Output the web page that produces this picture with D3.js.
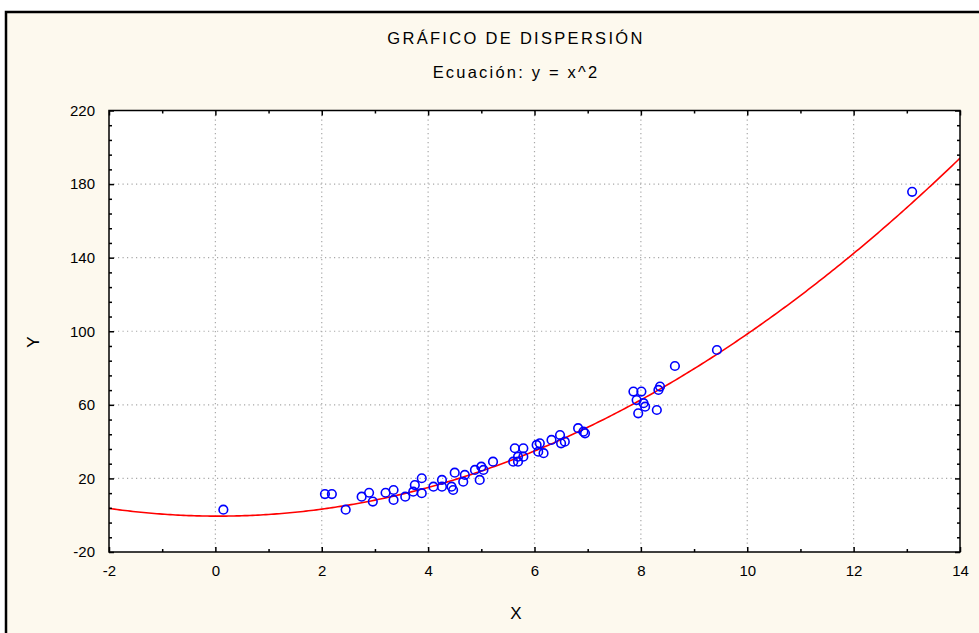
<!DOCTYPE html>
<html>
<head>
<meta charset="utf-8">
<script src="https://cdn.jsdelivr.net/npm/d3@7"></script>
<style>
  html, body { margin: 0; padding: 0; background: #ffffff; }
  svg { display: block; }
  text { font-family: "Liberation Sans", Arial, sans-serif; fill: #000; }
</style>
</head>
<body>
<script>
// ---- Data ----
const titleText = "GRÁFICO DE DISPERSIÓN";
const subtitleText = "Ecuación: y = x^2";
const xLabel = "X";
const yLabel = "Y";

const xValues = [0.15, 2.06, 2.19, 2.45, 2.75, 2.89, 2.96, 3.2, 3.35, 3.35,
  3.57, 3.72, 3.75, 3.88, 3.88, 4.1, 4.26, 4.26, 4.44, 4.47,
  4.5, 4.66, 4.69, 4.88, 4.97, 5.0, 5.04, 5.22, 5.6, 5.63,
  5.69, 5.69, 5.79, 5.79, 6.04, 6.07, 6.1, 6.17, 6.32, 6.48,
  6.5, 6.57, 6.82, 6.92, 6.95, 7.86, 8.01, 7.92, 8.05, 7.95,
  8.08, 8.3, 8.33, 8.36, 8.64, 9.43, 13.1];
const yValues = [3, 11.5, 11.5, 3, 10.1, 12.2, 7.4, 12.2, 13.7, 8.3,
  10.1, 12.8, 16.4, 20.1, 12, 15.5, 19.2, 15.5, 15.5, 13.7,
  23.1, 18.2, 21.9, 24.6, 19.2, 26.4, 24.6, 29.1, 29.1, 36.4,
  31.8, 29.1, 36.4, 31.8, 38.2, 34.5, 39.1, 33.7, 40.9, 43.6,
  39.1, 40, 47.3, 45.4, 44.5, 67.2, 67.2, 62.6, 60.9, 55.4,
  59, 57.2, 68.1, 69.9, 81.1, 89.8, 175.8];

// fitted curve coefficients: y = c0 + c1*x + c2*x^2
const fitCoefficients = [-0.5, -0.1, 1.0];

const xMajorTicks = [-2, 0, 2, 4, 6, 8, 10, 12, 14];
const xMinorTicks = [-1, 1, 3, 5, 7, 9, 11, 13];
const yMajorTicks = [-20, 20, 60, 100, 140, 180, 220];
const yMinorTicks = [-12, -4, 4, 12, 28, 36, 44, 52, 68, 76, 84, 92, 108, 116, 124, 132, 148, 156, 164, 172, 188, 196, 204, 212];
const xDomain = [-2, 14];
const yDomain = [-20, 220];

// ---- Layout ----
const W = 979, H = 633;
const plot = { left: 109, top: 110.5, right: 960, bottom: 552 };

const svg = d3.select("body").append("svg").attr("width", W).attr("height", H);

// outer panel
svg.append("rect").attr("x", 6).attr("y", 12).attr("width", W + 20).attr("height", H + 20)
  .attr("fill", "#fdf9ee").attr("stroke", "#000").attr("stroke-width", 2.5);

const x = d3.scaleLinear().domain(xDomain).range([plot.left, plot.right]);
const y = d3.scaleLinear().domain(yDomain).range([plot.bottom, plot.top]);

// plot background
svg.append("rect").attr("x", plot.left).attr("y", plot.top)
  .attr("width", plot.right - plot.left).attr("height", plot.bottom - plot.top)
  .attr("fill", "#ffffff");

// grid
const grid = svg.append("g").attr("stroke", "#a8a8a8").attr("stroke-width", 1.2)
  .attr("stroke-dasharray", "1.2,3.3");
xMajorTicks.filter(v => v > xDomain[0] && v < xDomain[1]).forEach(v => {
  grid.append("line").attr("x1", x(v)).attr("x2", x(v)).attr("y1", plot.top).attr("y2", plot.bottom);
});
yMajorTicks.filter(v => v > yDomain[0] && v < yDomain[1]).forEach(v => {
  grid.append("line").attr("y1", y(v)).attr("y2", y(v)).attr("x1", plot.left).attr("x2", plot.right);
});

// clip
svg.append("clipPath").attr("id", "clip").append("rect")
  .attr("x", plot.left).attr("y", plot.top)
  .attr("width", plot.right - plot.left).attr("height", plot.bottom - plot.top);

// fitted curve
const curvePts = d3.range(0, 321).map(i => {
  const xv = xDomain[0] + (xDomain[1] - xDomain[0]) * i / 320;
  return [xv, fitCoefficients[0] + fitCoefficients[1] * xv + fitCoefficients[2] * xv * xv];
});
svg.append("path").attr("clip-path", "url(#clip)")
  .attr("d", d3.line().x(d => x(d[0])).y(d => y(d[1]))(curvePts))
  .attr("fill", "none").attr("stroke", "#ff0000").attr("stroke-width", 1.6);

// points
svg.append("g").selectAll("circle").data(xValues.map((v, i) => [v, yValues[i]]))
  .join("circle")
  .attr("cx", d => x(d[0])).attr("cy", d => y(d[1])).attr("r", 4.3)
  .attr("fill", "none").attr("stroke", "#0000ff").attr("stroke-width", 1.6);

// axes (ticks inward)
const tickSizeMaj = 5, tickSizeMin = 3;
function axisGroup(axis, tx, ty) {
  const g = svg.append("g").attr("transform", `translate(${tx},${ty})`).call(axis);
  g.select(".domain").remove();
  g.selectAll("line").attr("stroke", "#000").attr("stroke-width", 1.5);
  return g;
}
const labelFont = "Liberation Sans, Arial, sans-serif";
// bottom
const bMaj = axisGroup(d3.axisBottom(x).tickValues(xMajorTicks).tickSize(-tickSizeMaj).tickPadding(13).tickFormat(d3.format("d")), 0, plot.bottom);
bMaj.selectAll("text").attr("font-size", 15).attr("font-family", labelFont).text(d => String(d));
axisGroup(d3.axisBottom(x).tickValues(xMinorTicks).tickSize(-tickSizeMin).tickFormat(""), 0, plot.bottom);
// top
axisGroup(d3.axisTop(x).tickValues(xMajorTicks).tickSize(-tickSizeMaj).tickFormat(""), 0, plot.top);
axisGroup(d3.axisTop(x).tickValues(xMinorTicks).tickSize(-tickSizeMin).tickFormat(""), 0, plot.top);
// left
const lMaj = axisGroup(d3.axisLeft(y).tickValues(yMajorTicks).tickSize(-tickSizeMaj).tickPadding(14).tickFormat(d3.format("d")), plot.left, 0);
lMaj.selectAll("text").attr("font-size", 15).attr("font-family", labelFont).text(d => String(d));
axisGroup(d3.axisLeft(y).tickValues(yMinorTicks).tickSize(-tickSizeMin).tickFormat(""), plot.left, 0);
// right
axisGroup(d3.axisRight(y).tickValues(yMajorTicks).tickSize(-tickSizeMaj).tickFormat(""), plot.right, 0);
axisGroup(d3.axisRight(y).tickValues(yMinorTicks).tickSize(-tickSizeMin).tickFormat(""), plot.right, 0);

// frame
svg.append("rect").attr("x", plot.left).attr("y", plot.top)
  .attr("width", plot.right - plot.left).attr("height", plot.bottom - plot.top)
  .attr("fill", "none").attr("stroke", "#000").attr("stroke-width", 1.5);

// titles
svg.append("text").attr("x", 516).attr("y", 44).attr("text-anchor", "middle")
  .attr("font-size", 16.5).attr("letter-spacing", "2.3").text(titleText);
svg.append("text").attr("x", 516).attr("y", 78).attr("text-anchor", "middle")
  .attr("font-size", 16.5).attr("letter-spacing", "2.2").text(subtitleText);
svg.append("text").attr("x", 516).attr("y", 619).attr("text-anchor", "middle")
  .attr("font-size", 17).text(xLabel);
svg.append("text").attr("transform", "translate(39,342) rotate(-90)").attr("text-anchor", "middle")
  .attr("font-size", 17).text(yLabel);
</script>
</body>
</html>
